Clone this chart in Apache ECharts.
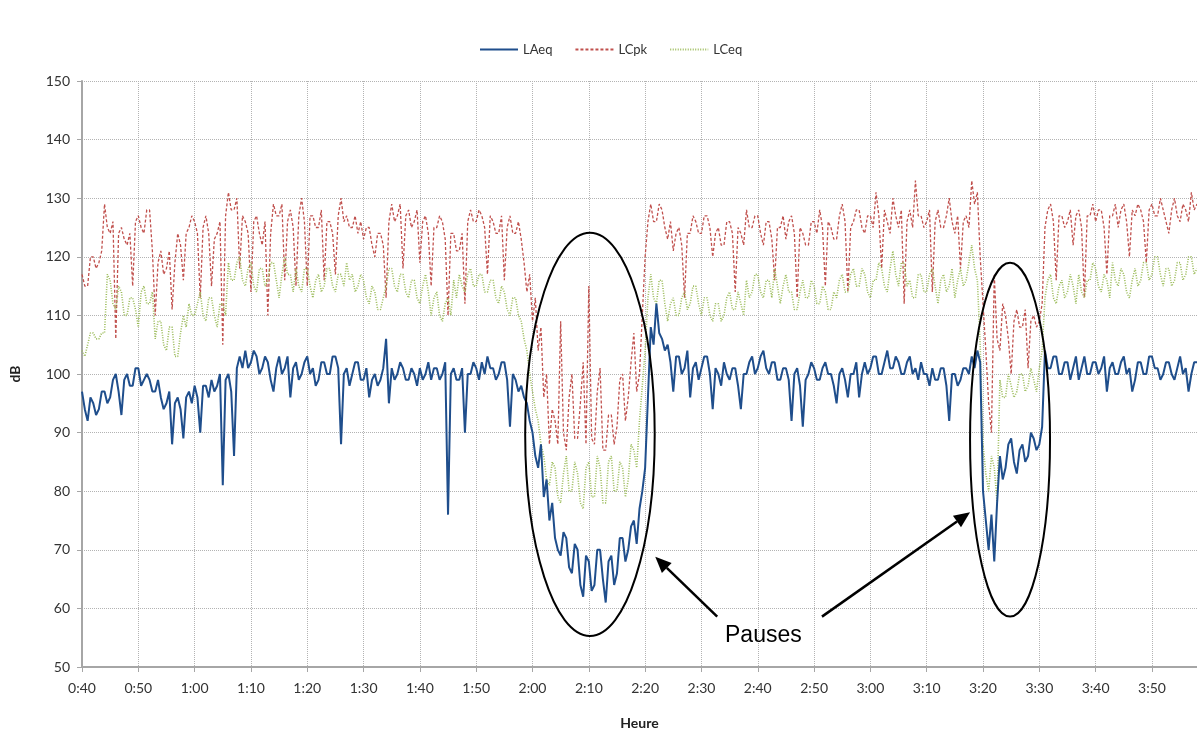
<!DOCTYPE html>
<html>
<head>
<meta charset="utf-8">
<script src="https://cdn.jsdelivr.net/npm/echarts@6/dist/echarts.min.js"></script>
<style>
html, body { margin: 0; background: #fff; }
#chart { width: 1197px; height: 735px; }
</style>
</head>
<body>
<div id="chart"></div>
<script>
// one reading every 30 s, first one at 0:40 (minutes after midnight)
var startMinute = 40;
var stepMinutes = 0.5;

var laeq = [
  97, 94, 92, 96, 95, 93, 94, 97, 97, 95,
  96, 99, 100, 97, 93, 99, 100, 98, 98, 101,
  101, 98, 99, 100, 99, 97, 97, 99, 96, 94,
  95, 97, 88, 95, 96, 94, 89, 96, 97, 95,
  98, 96, 90, 98, 98, 96, 99, 97, 98, 100,
  81, 99, 100, 97, 86, 101, 103, 101, 104, 101,
  102, 104, 103, 100, 101, 103, 102, 99, 97, 101,
  103, 100, 101, 103, 96, 101, 102, 99, 100, 102,
  103, 100, 101, 98, 99, 102, 102, 100, 100, 103,
  103, 101, 88, 100, 101, 98, 100, 102, 102, 99,
  99, 101, 96, 99, 100, 98, 99, 101, 106, 95,
  101, 99, 100, 102, 101, 99, 99, 101, 100, 98,
  101, 99, 100, 102, 99, 101, 101, 99, 100, 102,
  76, 100, 101, 99, 99, 101, 90, 100, 100, 102,
  101, 99, 102, 100, 103, 101, 101, 99, 100, 102,
  102, 99, 91, 100, 99, 97, 98, 96, 95, 92,
  90, 86, 84, 88, 79, 82, 75, 78, 72, 70,
  69, 73, 72, 67, 66, 71, 70, 64, 62, 69,
  68, 63, 64, 70, 70, 65, 61, 68, 69, 64,
  66, 72, 72, 68, 70, 74, 75, 71, 77, 80,
  84, 96, 108, 105, 112, 107, 106, 104, 105, 102,
  97, 103, 103, 100, 101, 104, 96, 101, 102, 99,
  101, 103, 103, 100, 94, 101, 100, 98, 102, 100,
  99, 101, 101, 98, 94, 100, 100, 102, 103, 100,
  101, 103, 104, 101, 100, 102, 102, 99, 99, 101,
  101, 99, 92, 100, 101, 98, 91, 99, 100, 102,
  101, 99, 99, 101, 102, 100, 100, 98, 95, 100,
  101, 99, 96, 100, 100, 102, 96, 100, 102, 100,
  101, 103, 103, 100, 100, 102, 104, 101, 101, 103,
  102, 100, 100, 102, 103, 100, 101, 99, 102, 100,
  100, 98, 101, 99, 99, 101, 101, 98, 92, 100,
  100, 98, 99, 101, 101, 100, 103, 101, 104, 102,
  80, 75, 70, 76, 68, 78, 86, 82, 84, 88,
  89, 85, 83, 87, 88, 85, 86, 90, 89, 87,
  88, 91, 104, 101, 101, 103, 103, 100, 100, 102,
  102, 99, 101, 103, 99, 101, 103, 100, 100, 102,
  102, 100, 101, 103, 97, 101, 102, 100, 100, 102,
  103, 100, 101, 97, 99, 102, 102, 100, 100, 103,
  103, 101, 101, 99, 100, 102, 102, 100, 99, 101,
  103, 100, 101, 97, 100, 102, 102
];

var lcpk = [
  117, 115, 115, 120, 120, 118, 119, 121, 129, 125,
  124, 126, 106, 124, 125, 123, 122, 124, 115, 126,
  127, 125, 124, 128, 128, 121, 110, 119, 121, 117,
  118, 121, 111, 119, 124, 122, 116, 124, 125, 127,
  126, 124, 113, 125, 127, 124, 115, 123, 124, 126,
  105, 127, 131, 128, 128, 130, 118, 127, 126, 124,
  114, 126, 127, 124, 122, 126, 110, 124, 129, 127,
  127, 129, 116, 126, 128, 125, 115, 127, 130, 126,
  115, 127, 127, 125, 125, 128, 116, 126, 126, 124,
  117, 127, 130, 126, 127, 125, 125, 127, 124, 126,
  123, 125, 125, 122, 120, 124, 124, 122, 113, 126,
  129, 126, 127, 129, 118, 127, 128, 125, 126, 128,
  119, 126, 127, 124, 115, 125, 125, 127, 126, 123,
  110, 124, 124, 121, 121, 124, 112, 126, 128, 126,
  126, 128, 127, 125, 117, 127, 126, 124, 124, 127,
  116, 125, 127, 124, 124, 126, 123, 119, 114, 117,
  109, 113, 104, 108, 96, 100, 88, 94, 92, 88,
  109, 90, 87, 96, 100, 89, 89, 95, 102, 88,
  115, 89, 88, 97, 101, 87, 87, 93, 93, 88,
  91, 99, 100, 92, 96, 102, 107, 97, 100, 110,
  120, 126, 129, 126, 126, 129, 128, 125, 123, 126,
  121, 124, 125, 122, 113, 124, 124, 127, 126, 124,
  124, 127, 127, 125, 120, 124, 125, 122, 122, 126,
  126, 124, 114, 125, 124, 122, 128, 125, 125, 127,
  127, 124, 122, 126, 126, 123, 116, 125, 125, 127,
  123, 126, 127, 124, 113, 125, 124, 122, 122, 126,
  126, 124, 128, 125, 115, 126, 125, 123, 123, 127,
  129, 126, 114, 125, 126, 128, 128, 125, 124, 127,
  127, 125, 131, 127, 118, 128, 126, 124, 130, 127,
  125, 128, 112, 126, 128, 125, 133, 127, 127, 125,
  126, 128, 114, 126, 128, 125, 125, 127, 130, 126,
  124, 127, 118, 126, 127, 125, 133, 129, 131, 120,
  112, 104, 95, 90, 117, 106, 104, 112, 110, 106,
  100, 109, 111, 108, 108, 111, 101, 109, 110, 108,
  109, 112, 125, 128, 129, 126, 116, 127, 127, 125,
  126, 128, 122, 127, 128, 125, 113, 127, 127, 129,
  126, 128, 128, 125, 117, 127, 127, 129, 125, 128,
  129, 126, 120, 128, 127, 129, 128, 126, 119, 128,
  129, 127, 127, 130, 128, 126, 124, 128, 130, 127,
  126, 129, 128, 126, 131, 128, 129
];

var lceq = [
  104, 103, 105, 107, 107, 106, 106, 107, 107, 117,
  116, 112, 111, 115, 114, 110, 110, 113, 113, 111,
  108, 114, 115, 112, 112, 114, 106, 109, 109, 105,
  104, 108, 108, 103, 103, 107, 110, 108, 112, 110,
  110, 112, 114, 110, 109, 113, 113, 110, 108, 112,
  112, 110, 119, 116, 116, 119, 120, 116, 115, 118,
  119, 115, 114, 118, 118, 115, 116, 119, 119, 116,
  113, 117, 120, 117, 117, 114, 118, 115, 114, 118,
  118, 115, 113, 116, 117, 114, 115, 118, 118, 115,
  114, 117, 117, 115, 119, 116, 117, 114, 115, 117,
  116, 113, 112, 115, 114, 111, 111, 113, 115, 118,
  118, 115, 114, 117, 117, 114, 113, 116, 116, 113,
  112, 115, 117, 114, 110, 113, 114, 110, 109, 112,
  113, 110, 116, 113, 117, 115, 114, 117, 118, 115,
  115, 117, 117, 114, 114, 116, 116, 113, 112, 115,
  114, 111, 110, 113, 113, 110, 109, 106, 104, 100,
  97, 94, 92, 88, 86, 82, 81, 85, 84, 79,
  78, 83, 86, 80, 80, 85, 83, 78, 77, 84,
  85, 79, 79, 86, 84, 78, 78, 85, 86, 80,
  80, 85, 84, 79, 82, 88, 87, 84, 92, 98,
  104, 113, 117, 113, 112, 116, 116, 112, 109, 112,
  113, 110, 110, 113, 114, 111, 112, 115, 115, 112,
  110, 113, 113, 110, 109, 112, 112, 109, 110, 113,
  114, 111, 111, 114, 112, 110, 116, 113, 114, 117,
  117, 114, 113, 116, 116, 113, 118, 115, 112, 115,
  117, 114, 114, 111, 111, 114, 116, 113, 113, 116,
  115, 112, 112, 115, 114, 111, 111, 114, 113, 116,
  117, 114, 114, 117, 118, 115, 115, 118, 117, 114,
  113, 116, 116, 119, 118, 115, 114, 118, 121, 117,
  115, 119, 119, 115, 116, 113, 113, 117, 117, 114,
  114, 117, 118, 115, 112, 116, 117, 114, 115, 118,
  113, 116, 118, 115, 116, 119, 122, 118, 116, 105,
  88, 83, 80, 86, 84, 78, 99, 96, 96, 100,
  98, 96, 97, 100, 100, 97, 98, 101, 99, 97,
  101, 104, 113, 116, 117, 113, 112, 115, 116, 113,
  114, 117, 115, 112, 117, 114, 113, 116, 116, 119,
  118, 115, 114, 117, 116, 113, 119, 116, 115, 118,
  117, 114, 113, 116, 118, 115, 116, 119, 119, 116,
  117, 120, 120, 117, 115, 118, 118, 115, 116, 119,
  119, 116, 117, 120, 120, 117, 118
];

// annotations, in chart units (minutes, dB)
var pauseEllipses = [[130.2, 89.7, 11.5, 34.4], [204.8, 88.8, 7.1, 30.2]];
var pauseArrows = [[152.8, 58.6, 141.8, 68.8], [171.4, 58.6, 197.7, 76.4]];
var pauseLabel = [161, 55.3, 'Pauses'];

function toPoints(values) {
  return values.map(function (v, i) { return [startMinute + i * stepMinutes, v]; });
}

function hhmm(m) {
  var h = Math.floor(m / 60), mm = m % 60;
  return h + ':' + (mm < 10 ? '0' + mm : mm);
}

var dom = document.getElementById('chart');
var myChart = echarts.init(dom);
var font = 'Lato';

var option = {
  animation: false,
  backgroundColor: '#fff',
  textStyle: { fontFamily: font },
  legend: {
    data: ['LAeq', 'LCpk', 'LCeq'],
    top: 38,
    left: 474,
    itemWidth: 38,
    itemHeight: 12,
    itemGap: 22,
    itemStyle: { opacity: 0 },
    textStyle: { fontSize: 13, color: '#333', fontFamily: font }
  },
  grid: { left: 82, right: 0, top: 81, bottom: 64 },
  xAxis: {
    type: 'value',
    min: 40,
    max: 238,
    interval: 10,
    name: 'Heure',
    nameLocation: 'middle',
    nameGap: 49,
    nameTextStyle: { fontWeight: 'bold', fontSize: 14, color: '#222', fontFamily: font },
    axisLine: { lineStyle: { color: '#a6a6a6', width: 2 } },
    axisTick: { show: true, length: 5, lineStyle: { color: '#a6a6a6' } },
    axisLabel: {
      fontSize: 14, color: '#333', margin: 14, showMaxLabel: false,
      formatter: function (v) { return hhmm(v); }
    },
    splitLine: { show: true, lineStyle: { type: 'dotted', color: '#b3b3b3' } }
  },
  yAxis: {
    type: 'value',
    min: 50,
    max: 150,
    interval: 10,
    name: 'dB',
    nameLocation: 'middle',
    nameGap: 60,
    nameRotate: 90,
    nameTextStyle: { fontWeight: 'bold', fontSize: 14, color: '#222', fontFamily: font },
    axisLine: { show: true, lineStyle: { color: '#a6a6a6', width: 2 } },
    axisTick: { show: true, length: 5, lineStyle: { color: '#a6a6a6' } },
    axisLabel: { fontSize: 14, color: '#333', margin: 12 },
    splitLine: { show: true, lineStyle: { type: 'dotted', color: '#b3b3b3' } }
  },
  series: [
    {
      name: 'LCpk', type: 'line', symbol: 'none', data: toPoints(lcpk),
      lineStyle: { color: '#c0504d', width: 1.3, type: [3, 2] },
      itemStyle: { color: '#c0504d' }
    },
    {
      name: 'LCeq', type: 'line', symbol: 'none', data: toPoints(lceq),
      lineStyle: { color: '#9bbb59', width: 1.6, type: [1, 1.5] },
      itemStyle: { color: '#9bbb59' }
    },
    {
      name: 'LAeq', type: 'line', symbol: 'none', data: toPoints(laeq),
      lineStyle: { color: '#1f4e8c', width: 2 },
      itemStyle: { color: '#1f4e8c' }
    }
  ]
};
myChart.setOption(option, true);

// ellipses, arrows and label placed from chart units
function px(x, y) { return myChart.convertToPixel({ gridIndex: 0 }, [x, y]); }
var shapes = [];
pauseEllipses.forEach(function (e) {
  var c = px(e[0], e[1]);
  var edge = px(e[0] + e[2], e[1] + e[3]);
  shapes.push({
    type: 'ellipse', z: 100,
    shape: { cx: c[0], cy: c[1], rx: edge[0] - c[0], ry: c[1] - edge[1] },
    style: { fill: null, stroke: '#000', lineWidth: 2 }
  });
});
pauseArrows.forEach(function (a) {
  var p0 = px(a[0], a[1]), p1 = px(a[2], a[3]);
  var dx = p1[0] - p0[0], dy = p1[1] - p0[1];
  var len = Math.sqrt(dx * dx + dy * dy);
  var ux = dx / len, uy = dy / len;
  var headLen = 16, headW = 7;
  var bx = p1[0] - ux * headLen, by = p1[1] - uy * headLen;
  shapes.push({
    type: 'line', z: 100,
    shape: { x1: p0[0], y1: p0[1], x2: bx, y2: by },
    style: { stroke: '#000', lineWidth: 2.5 }
  });
  shapes.push({
    type: 'polygon', z: 100,
    shape: { points: [[p1[0], p1[1]], [bx - uy * headW, by + ux * headW], [bx + uy * headW, by - ux * headW]] },
    style: { fill: '#000' }
  });
});
var lp = px(pauseLabel[0], pauseLabel[1]);
shapes.push({
  type: 'text', z: 100, x: lp[0], y: lp[1],
  style: { text: pauseLabel[2], fontSize: 23, fontFamily: 'Liberation Sans', fill: '#000', align: 'center', verticalAlign: 'middle' }
});
myChart.setOption({ graphic: shapes });
</script>
</body>
</html>
